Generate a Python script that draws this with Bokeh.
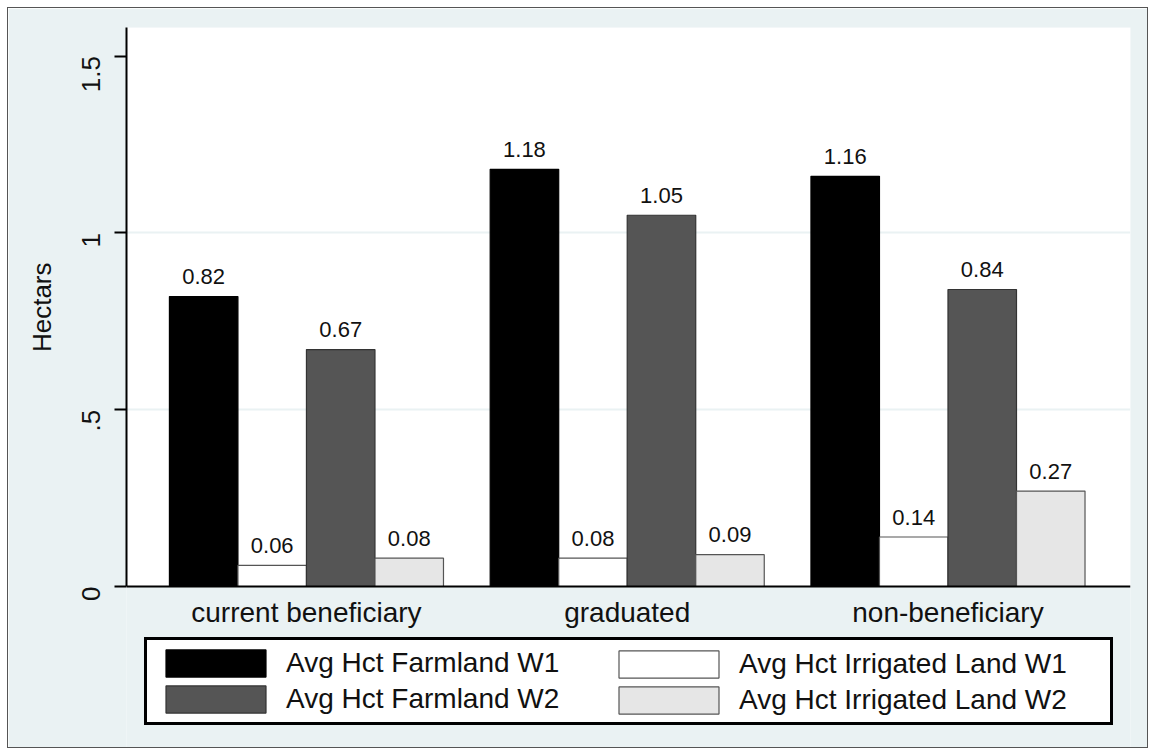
import math
from bokeh.plotting import figure
from bokeh.models import (ColumnDataSource, FixedTicker, Range1d, Legend,
                          LegendItem, BoxAnnotation, Title)
from bokeh.core.properties import value
from bokeh.embed import file_html
from bokeh.resources import INLINE

# ---- data ----
categories = ["current beneficiary", "graduated", "non-beneficiary"]
farmland_w1 = [0.82, 1.18, 1.16]
irrigated_w1 = [0.06, 0.08, 0.14]
farmland_w2 = [0.67, 1.05, 0.84]
irrigated_w2 = [0.08, 0.09, 0.27]
series_names = ["Avg Hct Farmland W1", "Avg Hct Irrigated Land W1",
                "Avg Hct Farmland W2", "Avg Hct Irrigated Land W2"]
y_ticks = [0, 0.5, 1, 1.5]
y_tick_labels = ["0", ".5", "1", "1.5"]
y_title = "Hectars"

FONT = "Liberation Sans"
BG = "#eaf2f3"
TXT = "#111111"
Y_TOP = 1.581
Y_BOT = -0.461   # space below the bars, used by labels and legend

p = figure(width=1141, height=741, output_backend="svg", toolbar_location=None,
           x_range=Range1d(-0.561, 2.569), y_range=Range1d(Y_BOT, Y_TOP),
           min_border_left=118, min_border_right=19, min_border_top=19,
           min_border_bottom=0)
p.margin = (7, 7, 0, 7)
p.styles = {"border": "1px solid #555555"}
p.background_fill_color = BG
p.border_fill_color = BG
p.outline_line_color = None

# white plot region (from zero upward)
p.add_layout(BoxAnnotation(bottom=0, fill_color="white", fill_alpha=1,
                           line_color=None, level="image"))

p.xgrid.visible = False
p.ygrid.ticker = FixedTicker(ticks=[0.5, 1.0])
p.ygrid.grid_line_color = BG
p.ygrid.grid_line_width = 2

fills = ["#000000", "#ffffff", "#555555", "#e6e6e6"]
lines = ["#000000", "#555555", "#333333", "#555555"]
series = [farmland_w1, irrigated_w1, farmland_w2, irrigated_w2]
bar_w = 0.2136

rends = []
for k, (vals, name) in enumerate(zip(series, series_names)):
    xs = [i + (k - 1.5) * bar_w for i in range(len(categories))]
    src = ColumnDataSource(dict(x=xs, top=vals, lab=[f"{v:.2f}" for v in vals]))
    r = p.vbar(x="x", top="top", bottom=0, width=bar_w, source=src,
               fill_color=fills[k], line_color=lines[k], line_width=1.2)
    p.text(x="x", y="top", text="lab", source=src, text_align="center",
           text_baseline="alphabetic", y_offset=-20, text_font=value(FONT),
           text_font_size="22px", text_color=TXT)
    rends.append(r)

common = dict(glyph_width=125, glyph_height=34, label_standoff=8,
              spacing=2, padding=6, margin=0,
              label_text_font=FONT, label_text_font_size="28px",
              label_text_color=TXT)

leg_a = Legend(items=[LegendItem(label=series_names[0], renderers=[rends[0]]),
                      LegendItem(label=series_names[2], renderers=[rends[2]])],
               location=(18, 24), label_width=818,
               border_line_color="black", border_line_width=3,
               border_line_alpha=1.0,
               background_fill_color="white", background_fill_alpha=1,
               **common)
leg_b = Legend(items=[LegendItem(label=series_names[1], renderers=[rends[1]]),
                      LegendItem(label=series_names[3], renderers=[rends[3]])],
               location=(480, 32), label_width=0,
               border_line_color=None, background_fill_alpha=0,
               **common)
p.add_layout(leg_a, "center")
p.add_layout(leg_b, "center")

ya = p.yaxis[0]
ya.bounds = (0, Y_TOP)
ya.ticker = FixedTicker(ticks=y_ticks)
ya.major_label_overrides = {t: l for t, l in zip(y_ticks, y_tick_labels)}
ya.major_label_orientation = math.pi / 2
ya.major_label_text_font = FONT
ya.major_label_text_font_size = "26px"
ya.major_label_text_color = TXT
ya.major_label_standoff = 23
ya.major_tick_out = 12
ya.major_tick_in = 0
ya.minor_tick_out = 0
ya.minor_tick_in = 0
ya.major_tick_line_width = 2
ya.axis_line_width = 2
ya.axis_line_color = "black"

# y-axis title, centred on the plotted (0 .. top) part of the axis
p.add_layout(Title(text=y_title, align="right", offset=235,
                   vertical_align="bottom", standoff=28,
                   text_font=FONT, text_font_style="normal",
                   text_font_size="26px", text_color=TXT), "left")

xa = p.xaxis[0]
xa.fixed_location = 0
xa.ticker = FixedTicker(ticks=list(range(len(categories))))
xa.major_label_overrides = {i: c for i, c in enumerate(categories)}
xa.major_label_text_font = FONT
xa.major_label_text_font_size = "28px"
xa.major_label_text_color = TXT
xa.major_label_standoff = 10
xa.major_tick_out = 0
xa.major_tick_in = 0
xa.minor_tick_out = 0
xa.minor_tick_in = 0
xa.axis_line_width = 2
xa.axis_line_color = "black"

open("out.html", "w").write(file_html(p, INLINE))
